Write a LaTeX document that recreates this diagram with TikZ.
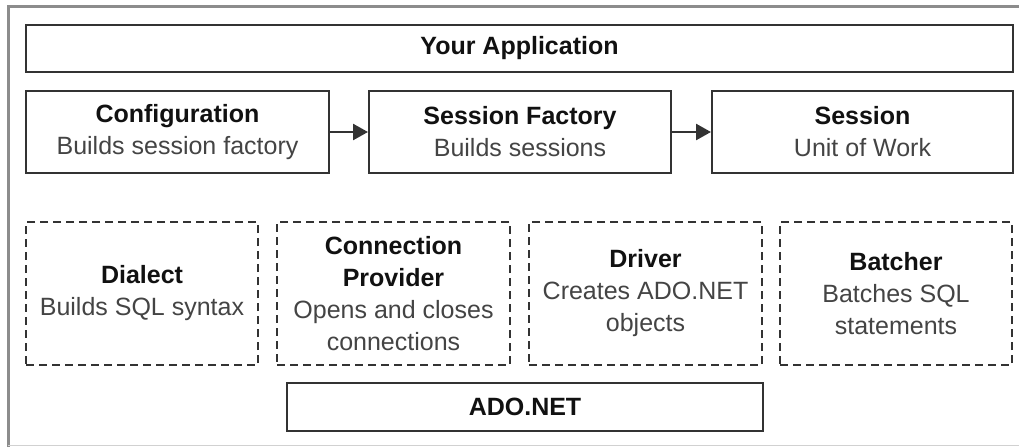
\documentclass[tikz,border=0pt]{standalone}
\usepackage{fontspec}
\setmainfont{Liberation Sans}
\usetikzlibrary{arrows.meta}
\definecolor{boxc}{HTML}{333333}
\definecolor{framec}{HTML}{8C8C8C}
\definecolor{titlec}{HTML}{111111}
\definecolor{subc}{HTML}{444444}
\tikzset{
  box/.style={draw=boxc, line width=2pt, fill=white, inner sep=0pt, align=center,
    font=\fontsize{25}{32}\selectfont, text=titlec},
  dbox/.style={box, dash pattern=on 8pt off 5pt},
  conn/.style={draw=boxc, line width=2.5pt, -{Triangle[length=15pt,width=16pt]}},
}
\newcommand{\ttl}[1]{\textbf{#1}}
\newcommand{\sub}[1]{{\color{subc}#1}}
\begin{document}
\begin{tikzpicture}[x=1pt,y=-1pt]
\useasboundingbox (0,0) rectangle (1019,447);
% outer frame (cropped)
\draw[framec, line width=3pt] (8,447) -- (8,6) -- (1019,6);
\draw[framec!40, line width=1pt] (8,445.5) -- (1019,445.5);
% top layer
\node[box, minimum width=987pt, minimum height=47pt] (app) at (519.5,48.5) {\ttl{Your Application}};
\node[box, minimum width=303pt, minimum height=82pt] (conf) at (177.5,132) {\ttl{Configuration}\\\sub{Builds session factory}};
\node[box, minimum width=302pt, minimum height=82pt] (sf) at (520,132) {\ttl{Session Factory}\\\sub{Builds sessions}};
\node[box, minimum width=301pt, minimum height=82pt] (sess) at (862.5,132) {\ttl{Session}\\\sub{Unit of Work}};
\draw[conn] (conf.east) -- (sf.west);
\draw[conn] (sf.east) -- (sess.west);
% providers
\node[dbox, minimum width=232pt, minimum height=143pt] (dial) at (142,293.5) {\ttl{Dialect}\\\sub{Builds SQL syntax}};
\node[dbox, minimum width=233pt, minimum height=143pt] (cp) at (393.5,293.5) {\ttl{Connection}\\\ttl{Provider}\\\sub{Opens and closes}\\\sub{connections}};
\node[dbox, minimum width=233pt, minimum height=143pt] (drv) at (645.5,293.5) {\ttl{Driver}\\\sub{Creates ADO.NET}\\\sub{objects}};
\node[dbox, minimum width=232pt, minimum height=143pt] (bat) at (896,293.5) {\ttl{Batcher}\\\sub{Batches SQL}\\\sub{statements}};
% ADO.NET
\node[box, minimum width=476pt, minimum height=48pt] (ado) at (525,407) {\ttl{ADO.NET}};
\end{tikzpicture}
\end{document}
